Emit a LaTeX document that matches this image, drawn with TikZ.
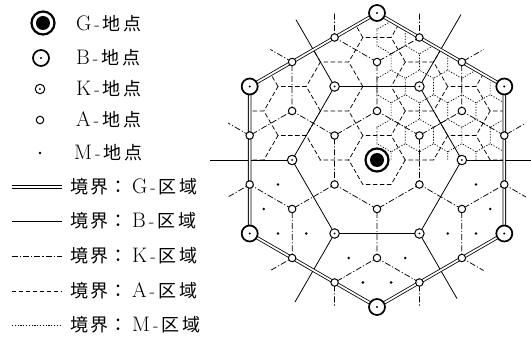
\documentclass[tikz,border=0pt]{standalone}
\usepackage{fontspec}
\newfontfamily\jp{Noto Sans CJK JP}
\usetikzlibrary{calc}

\tikzset{
  gplace/.style={circle, draw, fill=white, line width=2.2pt, minimum size=23pt, inner sep=0pt,
    path picture={\fill[black] (path picture bounding box.center) circle (7pt);}},
  bplace/.style={circle, draw, fill=white, line width=1.7pt, minimum size=16pt, inner sep=0pt,
    path picture={\fill[black] (path picture bounding box.center) circle (1.1pt);}},
  kplace/.style={circle, draw, fill=white, line width=1pt, minimum size=9.5pt, inner sep=0pt,
    path picture={\fill[black] (path picture bounding box.center) circle (1pt);}},
  aplace/.style={circle, draw, fill=white, line width=1pt, minimum size=7.5pt, inner sep=0pt},
  mplace/.style={circle, fill, minimum size=2.8pt, inner sep=0pt},
  gline/.style={double, double distance=1.8pt, line width=0.8pt},
  bline/.style={line width=0.8pt},
  kline/.style={line width=0.75pt, dash pattern=on 6pt off 2pt on 1.2pt off 2pt},
  aline/.style={line width=0.75pt, dash pattern=on 4.5pt off 2.5pt},
  mline/.style={line width=0.7pt, dash pattern=on 1.2pt off 1.6pt},
  legtext/.style={anchor=west, inner sep=0pt, font=\fontsize{18}{20}\selectfont}
}
\newcommand{\placetext}[1]{{\fontsize{21}{22}\selectfont #1}\hspace{3pt}-\hspace{3pt}{\jp 地\hspace{3pt}点}}
\newcommand{\regiontext}[1]{{\jp 境\hspace{2pt}界\hspace{1pt}：}\hspace{5pt}{\fontsize{21}{22}\selectfont #1}\hspace{3pt}-\hspace{3pt}{\jp 区\hspace{3pt}域}}

\begin{document}
\begin{tikzpicture}[x=1pt, y=1pt]
  \useasboundingbox (-377,-180) rectangle (154,160);

  % Places
  \coordinate (G) at (0,0);
  \foreach \n/\a in {1/30,2/90,3/150,4/210,5/270,6/330} {
    \coordinate (B\n) at (\a:147);
    \coordinate (A\n) at (\a:49);
    \coordinate (AA\n) at (\a:98);
  }
  \foreach \n/\a/\r in {1/0/154,2/60/168,3/120/162,4/180/167,5/240/164,6/300/160} {
    \coordinate (K\n) at (\a:84.87);
    \coordinate (E\n) at (\a:\r);
  }
  \foreach \n/\m in {1/2,2/3,3/4,4/5,5/6,6/1} {
    \coordinate (Pa\n) at ($(B\n)!1/3!(B\m)$);
    \coordinate (Pb\n) at ($(B\n)!2/3!(B\m)$);
  }

  % K boundaries
  \begin{scope}
    \clip (30:172) -- (90:172) -- (150:172) -- (210:172) -- (270:172) -- (330:172) -- cycle;
    \foreach \i in {-4,...,4}
      \foreach \j in {-4,...,4}
        \draw[kline, shift={({\i*84.87+\j*42.43}, {\j*73.5})}]
          (30:49) -- (90:49) -- (150:49) -- (210:49);
  \end{scope}

  % A boundaries, upper half
  \begin{scope}
    \clip (-127.3,-0.6) -- (150:147) -- (90:147) -- (30:147) -- (127.3,-0.6) -- cycle;
    \foreach \i in {-4,...,4}
      \foreach \j in {-7,...,7}
        \draw[aline, shift={({\i*42.43}, {\i*24.5+\j*49})}]
          (0:28.29) -- (60:28.29) -- (120:28.29) -- (180:28.29);
  \end{scope}
  \draw[aline] (0:28.29) -- (-60:28.29) -- (-120:28.29) -- (180:28.29);

  % M boundaries, upper right
  \begin{scope}
    \clip (-0.5,-0.5) -- (-0.5,147.3) -- (90:147) -- (30:147) -- (127.3,-0.5) -- cycle;
    \foreach \i in {-4,...,6}
      \foreach \j in {-1,...,6}
        \draw[mline, shift={({\i*28.29+\j*14.14}, {\j*24.5})}]
          (30:16.33) -- (90:16.33) -- (150:16.33) -- (210:16.33);
  \end{scope}

  % B boundaries
  \draw[bline] (K1) -- (K2) -- (K3) -- (K4) -- (K5) -- (K6) -- cycle;
  \foreach \n in {1,...,6}
    \draw[bline] (K\n) -- (E\n);

  % G boundary
  \draw[gline] (B1) -- (B2) -- (B3) -- (B4) -- (B5) -- (B6) -- cycle;

  % Place symbols
  \foreach \n in {1,...,6} {
    \node[aplace] (a\n) at (A\n) {};
    \node[aplace] (aa\n) at (AA\n) {};
    \node[aplace] (pa\n) at (Pa\n) {};
    \node[aplace] (pb\n) at (Pb\n) {};
    \node[kplace] (k\n) at (K\n) {};
    \node[bplace] (b\n) at (B\n) {};
  }
  \node[gplace] (g) at (G) {};
  \foreach \x/\y [count=\n] in {-99/-24.5,-113.16/-49,-70.7/-73.5,-99/-73.5,
      -28.29/-98,28.29/-98,-14.14/-122.5,14.14/-122.5,
      99/-24.5,113.16/-49,70.7/-73.5,99/-73.5}
    \node[mplace] (m\n) at (\x,\y) {};

  % Legend
  \node[gplace] (lg) at (-334,137) {};
  \node[bplace] (lb) at (-336,102) {};
  \node[kplace] (lk) at (-337,71) {};
  \node[aplace] (la) at (-337,40) {};
  \node[mplace] (lm) at (-337,7) {};
  \node[legtext] (tg) at (-301,136) {\placetext{G}};
  \node[legtext] (tb) at (-301,102) {\placetext{B}};
  \node[legtext] (tk) at (-301,71) {\placetext{K}};
  \node[legtext] (ta) at (-301,40) {\placetext{A}};
  \node[legtext] (tm) at (-303,7) {\placetext{M}};

  \foreach \n/\y in {g/-27,b/-61,k/-96,a/-131,m/-165} {
    \coordinate (l\n1) at (-365,\y);
    \coordinate (l\n2) at (-315,\y);
  }
  \draw[gline] (lg1) -- (lg2);
  \draw[bline] (lb1) -- (lb2);
  \draw[kline] (lk1) -- (lk2);
  \draw[aline] (la1) -- (la2);
  \draw[mline] (lm1) -- (lm2);
  \node[legtext] (rg) at (-307,-27) {\regiontext{G}};
  \node[legtext] (rb) at (-307,-61) {\regiontext{B}};
  \node[legtext] (rk) at (-307,-96) {\regiontext{K}};
  \node[legtext] (ra) at (-307,-131) {\regiontext{A}};
  \node[legtext] (rm) at (-307,-165) {\regiontext{M}};
\end{tikzpicture}
\end{document}
